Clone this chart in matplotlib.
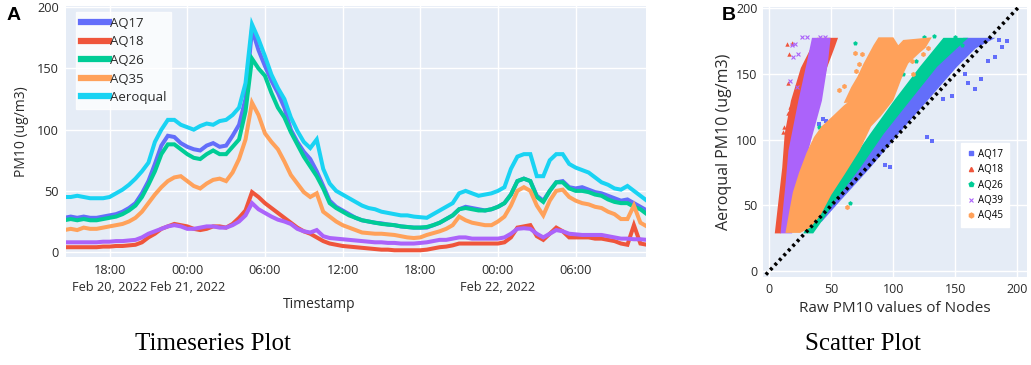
import matplotlib.pyplot as plt
from matplotlib.lines import Line2D
import numpy as np
import pandas as pd

plt.rcParams['font.family'] = ['Open Sans', 'DejaVu Sans']

# ---------------- timeseries data (30 min steps) ----------------
times = pd.date_range("2022-02-20 14:30", "2022-02-22 11:30", freq="30min")

aeroqual = [45, 45, 46, 45, 44, 44, 44, 45, 48, 51,
            55, 60, 66, 73, 90, 100, 108, 108, 104, 102,
            100, 103, 105, 104, 107, 108, 112, 118, 138, 186,
            174, 160, 145, 134, 125, 110, 99, 90, 85, 92,
            68, 56, 50, 47, 44, 41, 38, 36, 35, 33,
            32, 31, 30, 30, 29, 28.5, 28, 31, 34, 37,
            40, 48, 50, 48, 46, 47, 48, 50, 53, 68,
            78, 80, 80, 62, 62, 75, 80, 80, 72, 69,
            67, 65, 61, 57, 55, 52, 51, 54, 50, 46,
            42]
aq17 = [28, 29, 28, 29, 28, 28, 29, 30, 31, 33,
        36, 40, 48, 58, 72, 87, 95, 94, 89, 86,
        84, 83, 87, 89, 86, 87, 95, 104, 125, 182,
        165, 152, 140, 130, 118, 100, 90, 82, 76, 66,
        54, 42, 37, 34, 31, 28, 26, 25, 24, 23.5,
        22.5, 22, 21, 20.5, 20, 20, 20, 22, 24, 27,
        30, 35, 37, 36, 35, 34, 35, 37, 40, 47,
        58, 60, 58, 46, 42, 50, 57, 58, 53, 52,
        53, 51, 49, 48, 46, 44, 42, 43, 40, 37,
        34]
aq18 = [4, 4, 4, 4, 4, 4, 4.5, 4.5, 5, 5,
        5.5, 6, 8, 12, 15, 19, 21, 23, 22, 21,
        19, 18, 19, 21, 21, 20, 23, 28, 34, 49,
        45, 40, 36, 32, 28, 24, 20, 17, 15, 12,
        9, 7, 6, 5, 4.5, 4, 3.5, 3, 2.5, 2,
        2, 1.5, 1.5, 1.5, 1.5, 1.5, 2, 3, 4, 4.5,
        5.5, 7, 7, 7, 7, 7, 7, 7, 8, 12,
        20, 21, 22, 13, 10, 15, 20, 17, 12, 12,
        12, 12, 11, 11, 10, 9, 7, 6, 22, 7,
        6]
aq26 = [26, 27, 26, 27, 26, 26, 27, 28, 29, 31,
        34, 38, 45, 55, 66, 80, 88, 88, 84, 80,
        77, 76, 80, 83, 80, 80, 86, 92, 115, 158,
        150, 144, 130, 118, 110, 98, 88, 78, 70, 62,
        52, 40, 36, 33, 30, 28, 26, 25, 24, 23,
        22.5, 22, 21, 20.5, 20, 20, 20.5, 22, 24, 27,
        30, 35, 36, 35, 34, 34, 35, 37, 40, 47,
        58, 60, 58, 45, 41, 50, 57, 57, 52, 50,
        50, 49, 47, 46, 43, 41, 40, 40, 37, 35,
        31]
aq_purple = [8, 8, 8, 8, 8, 8, 8.5, 8.5, 9, 9,
             9.5, 10, 12, 15, 17, 19, 21, 22, 21, 19,
             19, 20, 21, 21, 20, 20, 22, 25, 30, 40,
             35, 32, 29, 26.5, 25, 23, 19, 17, 16, 18,
             13, 11.5, 11, 10.5, 10, 9.5, 9, 8.5, 8, 8,
             7.5, 7.5, 7, 7, 7, 7.5, 8, 9, 10, 10,
             11, 12, 12, 11, 11, 11, 11, 11, 12, 15,
             19, 19.5, 19, 15, 12, 15, 18, 17, 15, 14.5,
             14, 14, 14, 14, 13, 12, 11, 11, 10.5, 10.5,
             10]
aq35 = [18, 19, 18, 20, 19, 19, 20, 21, 22, 23,
        25, 28, 33, 40, 47, 53, 58, 61, 62, 58,
        54, 52, 56, 59, 60, 58, 65, 76, 92, 122,
        112, 97, 90, 84, 74, 63, 56, 49, 45, 48,
        33, 29, 25, 22, 20, 18, 16, 15.5, 15, 15,
        14.5, 14, 13, 12, 11.5, 12, 14, 15.5, 17, 19,
        22, 29, 26, 24, 23, 22, 22, 25, 29, 38,
        50, 53, 50, 38, 30, 42, 50, 51, 45, 42,
        40, 39, 37, 36, 33, 31, 27, 27, 38, 24,
        21]

# ---------------- scatter data: cloud outlines + stray points ----------------
s17_y = [38, 54, 79, 105, 130, 156, 170, 178]
s17_left = [33, 47, 67, 86, 107, 129, 145, 156]
s17_right = [42, 57, 81, 104, 127, 151, 166, 182]
s17_px = [127, 93, 97, 40, 43, 46, 192, 185, 182, 171, 166, 147, 131, 160, 176, 188, 158, 140]
s17_py = [102, 81, 79, 112, 116, 114, 175, 176, 163, 146, 139, 133, 99, 143, 160, 171, 150, 131]

s26_y = [29, 41, 54, 79, 105, 130, 156, 178]
s26_left = [27, 33, 41, 62, 81, 100, 121, 140]
s26_right = [35, 44, 53, 73, 92, 113, 135, 160]
s26_px = [69, 45, 42, 65, 40, 48, 125, 133, 150, 155, 118, 108, 146, 138]
s26_py = [174, 165, 152, 52, 110, 105, 178, 179, 178, 172, 160, 150, 176, 170]

s18_y = [29, 54, 79, 105, 130, 155, 170, 178]
s18_left = [4, 7, 10, 12, 17, 25, 33, 38]
s18_right = [9, 14, 20, 30, 40, 46, 52, 55]
s18_px = [15, 17, 12, 20, 14, 18, 16, 15, 11, 19]
s18_py = [120, 125, 110, 115, 173, 174, 165, 143, 106, 108]

s39_y = [29, 67, 92, 130, 160, 178]
s39_left = [8.6, 12.7, 15, 23, 30, 34]
s39_right = [18, 23, 31, 42, 47, 49]
s39_px = [18, 21, 23, 19, 26, 30, 45, 22, 17, 41]
s39_py = [172, 173, 165, 163, 178, 178, 178, 140, 145, 178]

s45_low_x = [13, 16, 19, 24, 30, 36, 42, 50, 60, 68, 80, 95, 100, 90, 82, 73, 61, 50, 41, 33, 25]
s45_low_y = [29, 45, 60, 75, 90, 102, 110, 117, 126, 132, 135, 133, 130, 118, 110, 92, 74, 58, 42, 33, 29]
s45_up_x = [60, 66, 71, 76, 80, 84, 88, 100, 104, 108, 131, 126, 121, 112, 108, 104, 100]
s45_up_y = [128, 140, 148, 158, 165, 172, 178, 178, 172, 176, 178, 170, 166, 158, 150, 140, 130]
s45_px = [75, 72, 70, 93, 97, 110, 115, 124, 128, 69, 63, 56, 60, 86, 116, 95]
s45_py = [165, 158, 152, 170, 175, 168, 160, 165, 170, 166, 49, 138, 141, 160, 150, 155]

ts_colors = {'AQ17': '#636EFA', 'AQ18': '#EF553B', 'AQ26': '#00CC96',
             'purple': '#AB63FA', 'AQ35': '#FFA15A', 'Aeroqual': '#19D3F3'}
bg = '#E5ECF6'
txt = '#2a2a2a'

fig = plt.figure(figsize=(10.31, 3.65), dpi=100)

# ---------------- panel A ----------------
ax1 = fig.add_axes([66/1031, 1-257/365, 580/1031, 251/365])
ax1.set_facecolor(bg)
series = [('AQ17', aq17), ('AQ18', aq18), ('AQ26', aq26), ('purple', aq_purple),
          ('AQ35', aq35), ('Aeroqual', aeroqual)]
for name, vals in series:
    ax1.plot(times, vals, color=ts_colors[name], lw=2.9, solid_joinstyle='miter')

ticks = pd.to_datetime(["2022-02-20 18:00", "2022-02-21 00:00", "2022-02-21 06:00",
                        "2022-02-21 12:00", "2022-02-21 18:00", "2022-02-22 00:00",
                        "2022-02-22 06:00"])
tick_labels = ["18:00\nFeb 20, 2022", "00:00\nFeb 21, 2022", "06:00", "12:00",
               "18:00", "00:00\nFeb 22, 2022", "06:00"]
ax1.set_xticks(ticks)
ax1.set_xticklabels(tick_labels, linespacing=1.4, va='top')
ax1.set_xlim(pd.Timestamp("2022-02-20 14:38"), pd.Timestamp("2022-02-22 11:26"))
ax1.set_ylim(-4, 201)
ax1.set_yticks([0, 50, 100, 150, 200])
ax1.grid(color='white', lw=1)
ax1.set_axisbelow(True)
for s in ax1.spines.values():
    s.set_visible(False)
ax1.tick_params(length=0, labelsize=9.2, colors=txt, pad=5)
ax1.set_ylabel("PM10 (ug/m3)", fontsize=10, color=txt, labelpad=6)

handles = [Line2D([], [], color=ts_colors[n], lw=4.5) for n in ['AQ17', 'AQ18', 'AQ26', 'AQ35', 'Aeroqual']]
leg = ax1.legend(handles, ['AQ17', 'AQ18', 'AQ26', 'AQ35', 'Aeroqual'], loc='upper left',
                 bbox_to_anchor=(0.018, 0.975), borderaxespad=0, fontsize=9.5, frameon=True,
                 fancybox=False, handlelength=2.1, handletextpad=0.1, labelspacing=0.42,
                 borderpad=0.35)
leg.get_frame().set_edgecolor('white')
leg.get_frame().set_facecolor('white')
for t in leg.get_texts():
    t.set_color(txt)

fig.text(319/1031, 1-305/365, "Timestamp", fontsize=10, color=txt, ha='center', va='center')
fig.text(14/1031, 1-16/365, "A", fontsize=14, fontweight='bold', family='Liberation Sans',
         ha='center', va='center')

# ---------------- panel B ----------------
ax2 = fig.add_axes([763/1031, 1-277/365, 264/1031, 270/365])
ax2.set_facecolor(bg)

ax2.fill_betweenx(s17_y, s17_left, s17_right, color=ts_colors['AQ17'], lw=0)
ax2.scatter(s17_px, s17_py, marker='s', s=10, color=ts_colors['AQ17'], lw=0)
ax2.fill_betweenx(s18_y, s18_left, s18_right, color=ts_colors['AQ18'], lw=0)
ax2.scatter(s18_px, s18_py, marker='^', s=10, color=ts_colors['AQ18'], lw=0)
ax2.fill_betweenx(s26_y, s26_left, s26_right, color=ts_colors['AQ26'], lw=0)
ax2.scatter(s26_px, s26_py, marker='p', s=12, color=ts_colors['AQ26'], lw=0)
ax2.fill_betweenx(s39_y, s39_left, s39_right, color=ts_colors['purple'], lw=0)
ax2.scatter(s39_px, s39_py, marker='x', s=8, color=ts_colors['purple'], lw=0.8)
ax2.fill(s45_low_x, s45_low_y, color=ts_colors['AQ35'], lw=0)
ax2.fill(s45_up_x, s45_up_y, color=ts_colors['AQ35'], lw=0)
ax2.scatter(s45_px, s45_py, marker='h', s=14, color=ts_colors['AQ35'], lw=0)

ax2.plot([-10, 215], [-10, 215], color='black', lw=2.6, ls=(0, (0.8, 1.0)))

ax2.set_xlim(-5.1, 207.8)
ax2.set_ylim(-4.6, 201.1)
ax2.set_xticks([0, 50, 100, 150, 200])
ax2.set_yticks([0, 50, 100, 150, 200])
ax2.grid(color='white', lw=1)
ax2.set_axisbelow(True)
for s in ax2.spines.values():
    s.set_visible(False)
ax2.tick_params(length=0, labelsize=9, colors=txt, pad=4)
ax2.set_xlabel("Raw PM10 values of Nodes", fontsize=11, color=txt, labelpad=4)
ax2.set_ylabel("Aeroqual PM10 (ug/m3)", fontsize=11.5, color=txt, labelpad=3)

sc_handles = [Line2D([], [], ls='', marker='s', ms=3, color=ts_colors['AQ17']),
              Line2D([], [], ls='', marker='^', ms=3, color=ts_colors['AQ18']),
              Line2D([], [], ls='', marker='p', ms=3.5, color=ts_colors['AQ26']),
              Line2D([], [], ls='', marker='x', ms=3, mew=0.8, color=ts_colors['purple']),
              Line2D([], [], ls='', marker='h', ms=3.5, color=ts_colors['AQ35'])]
leg2 = ax2.legend(sc_handles, ['AQ17', 'AQ18', 'AQ26', 'AQ39', 'AQ45'], loc='upper left',
                  bbox_to_anchor=((961-763)/264, (277-143)/270), borderaxespad=0, fontsize=7,
                  fancybox=False, handlelength=0.9, handletextpad=0.3, labelspacing=0.45,
                  borderpad=0.6)
leg2.get_frame().set_edgecolor('white')
leg2.get_frame().set_facecolor('white')
leg2.get_frame().set_alpha(1)

fig.text(729/1031, 1-16/365, "B", fontsize=14, fontweight='bold', family='Liberation Sans',
         ha='center', va='center')

# captions
fig.text(213/1031, 1-344/365, "Timeseries Plot", fontsize=18, family='Liberation Serif',
         ha='center', va='center')
fig.text(863/1031, 1-344/365, "Scatter Plot", fontsize=18, family='Liberation Serif',
         ha='center', va='center')

fig.savefig("out.png", dpi=100)
